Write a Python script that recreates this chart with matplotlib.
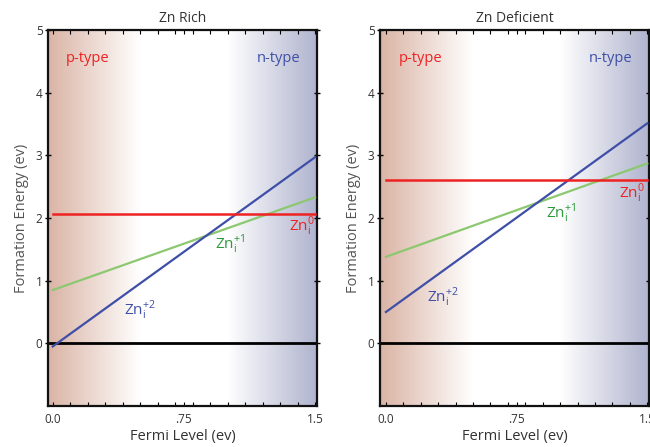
import numpy as np
import matplotlib.pyplot as plt
from matplotlib.ticker import MultipleLocator

plt.rcParams['font.family'] = ['Open Sans', 'DejaVu Sans']

# data
titles = ['Zn Rich', 'Zn Deficient']
x_ends = [0.0, 1.5]
zn0 = [[2.07, 2.07], [2.60, 2.60]]          # neutral, flat
zn1 = [[0.85, 2.33], [1.38, 2.87]]          # +1 charge
zn2 = [[-0.05, 2.97], [0.50, 3.51]]         # +2 charge
xlims = [(-0.027, 1.511), (-0.034, 1.51)]
lbl_pos = {
    'zn0': [(1.35, 1.80), (1.34, 2.33)],
    'zn1': [(0.93, 1.52), (0.92, 2.00)],
    'zn2': [(0.41, 0.46), (0.235, 0.67)],
}
xticks = [0.0, 0.75, 1.5]
xticklabels = ['0.0', '.75', '1.5']
yticks = [0, 1, 2, 3, 4, 5]

red = '#ee2222'
green = '#8cc870'
green_txt = '#2a9a3a'
blue = '#3f4fa8'
p_col = np.array([218, 180, 165]) / 255
n_col = np.array([176, 180, 206]) / 255

fig = plt.figure(figsize=(6.5, 4.47), dpi=100)
lefts = [48 / 650, 380 / 650]

for i in range(2):
    ax = fig.add_axes([lefts[i], 1 - 406 / 447, 269 / 650, 376 / 447])
    x0, x1 = xlims[i]

    # background gradient: p-type side -> white -> n-type side
    xs = np.linspace(x0, x1, 400)
    w = np.ones((1, 400, 3))
    lp = np.clip((0.5 - xs) / (0.5 - x0), 0, 1)
    ln = np.clip((xs - 1.0) / (x1 - 1.0), 0, 1)
    for c in range(3):
        w[0, :, c] = 1 - lp * (1 - p_col[c]) - ln * (1 - n_col[c])
    ax.imshow(w, extent=[x0, x1, -1, 5], aspect='auto', zorder=0, interpolation='bilinear')

    ax.axhline(0, color='black', lw=2, zorder=2)
    ax.plot(x_ends, zn1[i], color=green, lw=1.6, zorder=3)
    ax.plot(x_ends, zn2[i], color=blue, lw=1.6, zorder=4)
    ax.plot(x_ends, zn0[i], color=red, lw=1.8, zorder=5)

    ax.text(*lbl_pos['zn0'][i], r'Zn$_\mathregular{i}^\mathregular{0}$', color=red, fontsize=11)
    ax.text(*lbl_pos['zn1'][i], r'Zn$_\mathregular{i}^\mathregular{+1}$', color=green_txt, fontsize=11)
    ax.text(*lbl_pos['zn2'][i], r'Zn$_\mathregular{i}^\mathregular{+2}$', color=blue, fontsize=11)

    ax.text(0.2, 4.55, 'p-type', color=red, fontsize=10.5, ha='center', va='center')
    ax.text(1.29, 4.55, 'n-type', color=blue, fontsize=10.5, ha='center', va='center')

    ax.set_xlim(x0, x1)
    ax.set_ylim(-1, 5)
    ax.set_xticks(xticks)
    ax.set_xticklabels(xticklabels)
    ax.set_yticks(yticks)
    ax.xaxis.set_minor_locator(MultipleLocator(0.1))
    ax.tick_params(axis='x', which='both', direction='in', top=True, length=3, width=0.8,
                   labelsize=8.5, labelcolor='#333333', pad=5)
    ax.tick_params(axis='y', which='both', direction='inout', right=True, length=4, width=1,
                   labelsize=8.5, labelcolor='#333333', pad=2)
    for s in ax.spines.values():
        s.set_linewidth(1.6)
        s.set_color('#111111')

    ax.set_title(titles[i], fontsize=10, color='#333333', pad=6)
    ax.set_xlabel('Fermi Level (ev)', fontsize=10.5, color='#333333', labelpad=2)
    ax.set_ylabel('Formation Energy (ev)', fontsize=10.5, color='#555555', labelpad=5)

fig.savefig('out.png', dpi=100)
